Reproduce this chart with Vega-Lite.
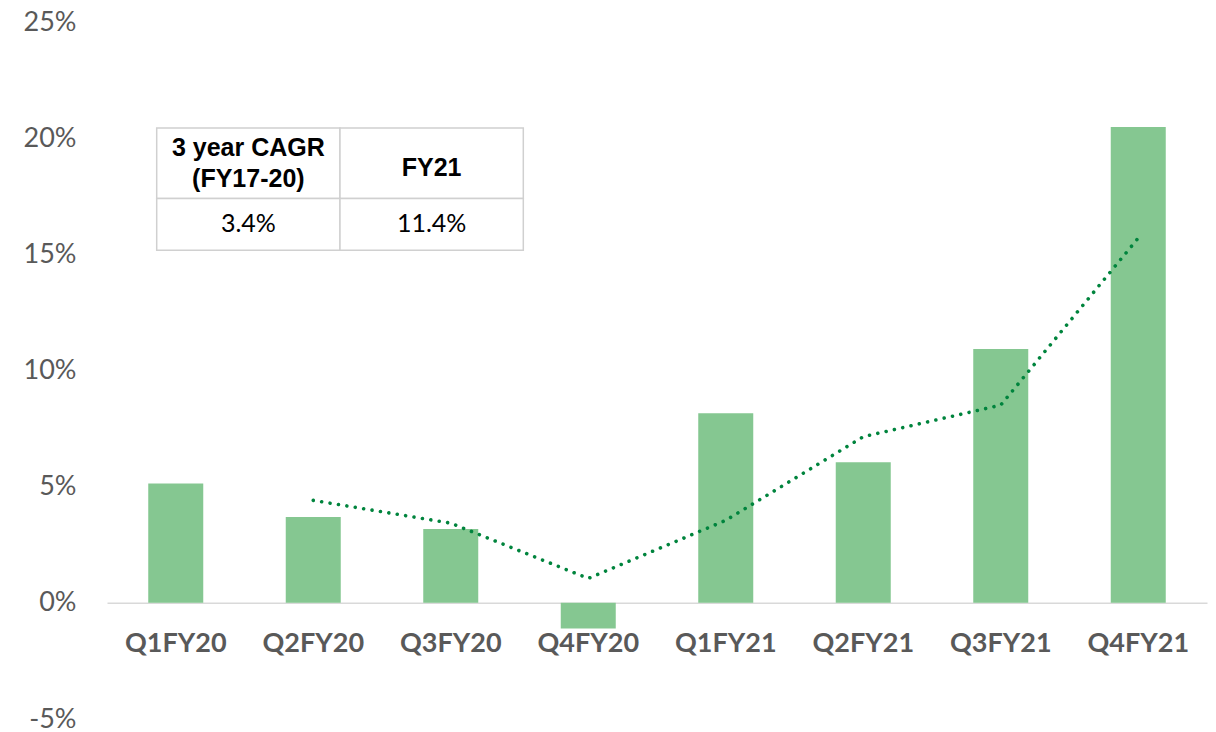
{
  "$schema": "https://vega.github.io/schema/vega-lite/v6.json",
  "width": 1100,
  "height": 697,
  "autosize": {"type": "none"},
  "padding": {"left": 107, "top": 22, "right": 9, "bottom": 13},
  "background": "white",
  "config": {"view": {"stroke": null}, "font": "Lato"},
  "datasets": {
    "growth": [
      {"quarter": "Q1FY20", "growth": 5.14, "trend": null},
      {"quarter": "Q2FY20", "growth": 3.69, "trend": 4.41},
      {"quarter": "Q3FY20", "growth": 3.18, "trend": 3.43},
      {"quarter": "Q4FY20", "growth": -1.10, "trend": 1.05},
      {"quarter": "Q1FY21", "growth": 8.16, "trend": 3.55},
      {"quarter": "Q2FY21", "growth": 6.05, "trend": 7.15},
      {"quarter": "Q3FY21", "growth": 10.93, "trend": 8.51},
      {"quarter": "Q4FY21", "growth": 20.48, "trend": 15.70}
    ],
    "table": [
      {"metric": "3 year CAGR\n(FY17-20)", "value": "3.4%", "lines": 2},
      {"metric": "FY21", "value": "11.4%", "lines": 1}
    ]
  },
  "layer": [
    {
      "data": {"name": "growth"},
      "encoding": {
        "x": {
          "field": "quarter",
          "type": "nominal",
          "sort": null,
          "scale": {"paddingInner": 0.6, "paddingOuter": 0.3},
          "axis": {
            "title": null,
            "orient": "bottom",
            "offset": -116.17,
            "domainColor": "#d9d9d9",
            "domainWidth": 1.5,
            "ticks": false,
            "tickSize": 0,
            "labelPadding": 28,
            "labelAngle": 0,
            "labelFontSize": 27,
            "labelFontWeight": "bold",
            "labelColor": "#595959",
            "labelFont": "Lato",
            "labelOverlap": false
          }
        }
      },
      "layer": [
        {
          "mark": {"type": "bar", "color": "#85c791"},
          "encoding": {
            "y": {
              "field": "growth",
              "type": "quantitative",
              "scale": {"domain": [-5, 25], "nice": false, "zero": false},
              "axis": {
                "title": null,
                "values": [-5, 0, 5, 10, 15, 20, 25],
                "labelExpr": "datum.value + '%'",
                "domain": false,
                "ticks": false,
                "tickSize": 0,
                "grid": false,
                "labelPadding": 31,
                "labelFontSize": 27,
                "labelColor": "#595959",
                "labelFont": "Lato"
              }
            }
          }
        },
        {
          "mark": {
            "type": "line",
            "color": "#00843d",
            "strokeWidth": 3.6,
            "strokeCap": "round",
            "strokeDash": [0.01, 8.5]
          },
          "encoding": {
            "y": {"field": "trend", "type": "quantitative"}
          }
        }
      ]
    },
    {
      "data": {"name": "table"},
      "encoding": {
        "x": {
          "field": "metric",
          "type": "nominal",
          "sort": null,
          "scale": {"range": [49.7, 416.3], "paddingInner": 0, "paddingOuter": 0},
          "axis": null
        }
      },
      "layer": [
        {
          "mark": {"type": "rect", "fill": "white", "stroke": "#d0d0d0", "strokeWidth": 1.5},
          "encoding": {
            "y": {"datum": 20.44, "type": "quantitative"},
            "y2": {"datum": 17.4}
          }
        },
        {
          "mark": {"type": "rect", "fill": "white", "stroke": "#d0d0d0", "strokeWidth": 1.5},
          "encoding": {
            "y": {"datum": 17.4, "type": "quantitative"},
            "y2": {"datum": 15.18}
          }
        },
        {
          "transform": [{"filter": "datum.lines == 2"}],
          "mark": {
            "type": "text",
            "font": "Liberation Sans",
            "fontWeight": "bold",
            "fontSize": 25,
            "lineBreak": "\n",
            "lineHeight": 31,
            "baseline": "middle",
            "align": "center",
            "color": "#000000"
          },
          "encoding": {
            "y": {"datum": 19.56, "type": "quantitative"},
            "text": {"field": "metric", "type": "nominal"}
          }
        },
        {
          "transform": [{"filter": "datum.lines == 1"}],
          "mark": {
            "type": "text",
            "font": "Liberation Sans",
            "fontWeight": "bold",
            "fontSize": 25,
            "baseline": "middle",
            "align": "center",
            "color": "#000000"
          },
          "encoding": {
            "y": {"datum": 18.73, "type": "quantitative"},
            "text": {"field": "metric", "type": "nominal"}
          }
        },
        {
          "mark": {
            "type": "text",
            "font": "Lato",
            "fontSize": 25,
            "baseline": "middle",
            "align": "center",
            "color": "#000000"
          },
          "encoding": {
            "y": {"datum": 16.3, "type": "quantitative"},
            "text": {"field": "value", "type": "nominal"}
          }
        }
      ]
    }
  ],
  "resolve": {"scale": {"x": "independent"}}
}
